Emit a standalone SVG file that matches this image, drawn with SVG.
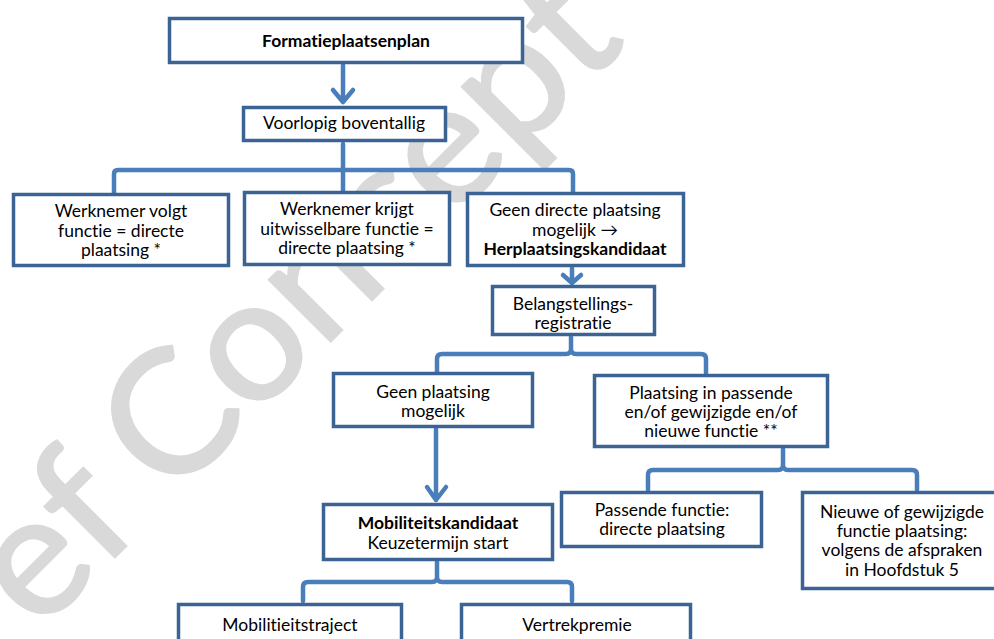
<svg xmlns="http://www.w3.org/2000/svg" width="994" height="639" viewBox="0 0 994 639">
<style>
.wm{font-family:Lato,"Liberation Sans",sans-serif;font-size:172px;fill:#d9d9d9;stroke:#d9d9d9;stroke-width:2.5;font-variant-ligatures:none}
.box{fill:#fff;stroke:#3b6393;stroke-width:3.5}
.t{font-family:Lato,"Noto Sans","Liberation Sans",sans-serif;font-size:17.5px;fill:#000;text-anchor:middle;font-variant-ligatures:none;font-feature-settings:"liga" 0}
.b{font-weight:bold}
.c{fill:none;stroke:#4a7ebb;stroke-width:4.5;stroke-linecap:round;stroke-linejoin:round}
</style>
<rect width="994" height="639" fill="#fff"/>
<g id="watermark">
<text class="wm" transform="translate(38,634) rotate(-45)" textLength="152" lengthAdjust="spacingAndGlyphs">ef</text>
<text class="wm" transform="translate(170,502) rotate(-45)" textLength="648" lengthAdjust="spacingAndGlyphs">Concept</text>
</g>
<g id="connectors">
<path class="c" d="M343,65 V102 M333,90 L343,102 L353,90"/>
<path class="c" d="M343,144 V191 M114,193 V174 Q114,170 118,170 H569 Q573,170 573,174 V192"/>
<path class="c" d="M572,268 V283 M563,275 L572,283 L581,275"/>
<path class="c" d="M437,372 V359 Q437,354 442,354 H566 Q571,354 571,349 V337 M571,349 Q571,354 576,354 H701 Q706,354 706,359 V373"/>
<path class="c" d="M436,429 V500 M427,487 L436,500 L446,487"/>
<path class="c" d="M303,601 V587 Q303,582 308,582 H432 Q437,582 437,577 V562 M437,577 Q437,582 442,582 H567 Q572,582 572,587 V601"/>
<path class="c" d="M648,490 V475 Q648,470 653,470 H778 Q783,470 783,465 V449 M783,465 Q783,470 788,470 H912 Q917,470 917,475 V490"/>
</g>
<g id="n_formatie">
<rect class="box" x="169.5" y="18.5" width="353" height="44"/>
<text class="t b" x="346" y="47">Formatieplaatsenplan</text>
</g>
<g id="n_voorlopig">
<rect class="box" x="243.5" y="107.5" width="202" height="33"/>
<text class="t" x="344" y="129">Voorlopig boventallig</text>
</g>
<g id="n_volgt">
<rect class="box" x="13.5" y="194.5" width="215" height="71"/>
<text class="t" x="121" y="217">Werknemer volgt</text>
<text class="t" x="121" y="236.5">functie = directe</text>
<text class="t" x="121" y="256">plaatsing *</text>
</g>
<g id="n_krijgt">
<rect class="box" x="244.5" y="192.5" width="205" height="72"/>
<text class="t" x="347" y="215">Werknemer krijgt</text>
<text class="t" x="347" y="234.5">uitwisselbare functie =</text>
<text class="t" x="347" y="254">directe plaatsing *</text>
</g>
<g id="n_geen_direct">
<rect class="box" x="467.5" y="193.5" width="216" height="72"/>
<text class="t" x="575" y="216">Geen directe plaatsing</text>
<text class="t" x="575" y="235.5">mogelijk →</text>
<text class="t b" x="575" y="254.5">Herplaatsingskandidaat</text>
</g>
<g id="n_belang">
<rect class="box" x="492.5" y="286.5" width="162" height="48"/>
<text class="t" x="573" y="310">Belangstellings-</text>
<text class="t" x="573" y="329">registratie</text>
</g>
<g id="n_geen_plaatsing">
<rect class="box" x="333.5" y="373.5" width="199" height="53"/>
<text class="t" x="433" y="398">Geen plaatsing</text>
<text class="t" x="433" y="417">mogelijk</text>
</g>
<g id="n_plaatsing_in">
<rect class="box" x="594.5" y="375.5" width="233" height="71"/>
<text class="t" x="711" y="399">Plaatsing in passende</text>
<text class="t" x="711" y="418">en/of gewijzigde en/of</text>
<text class="t" x="711" y="437">nieuwe functie **</text>
</g>
<g id="n_mobiliteits">
<rect class="box" x="323.5" y="504.5" width="229" height="55"/>
<text class="t b" x="438" y="529">Mobiliteitskandidaat</text>
<text class="t" x="438" y="549">Keuzetermijn start</text>
</g>
<g id="n_passende">
<rect class="box" x="561.5" y="492.5" width="200" height="54"/>
<text class="t" x="662" y="516">Passende functie:</text>
<text class="t" x="662" y="535">directe plaatsing</text>
</g>
<g id="n_nieuwe">
<rect class="box" x="802.5" y="492.5" width="200" height="96"/>
<text class="t" x="902" y="518">Nieuwe of gewijzigde</text>
<text class="t" x="902" y="537">functie plaatsing:</text>
<text class="t" x="902" y="556">volgens de afspraken</text>
<text class="t" x="902" y="575.5">in Hoofdstuk 5</text>
</g>
<g id="n_mobtraject">
<rect class="box" x="178.5" y="604.5" width="223" height="60"/>
<text class="t" x="290" y="631">Mobilitieitstraject</text>
</g>
<g id="n_vertrek">
<rect class="box" x="461.5" y="604.5" width="229" height="60"/>
<text class="t" x="577" y="631">Vertrekpremie</text>
</g>
</svg>
